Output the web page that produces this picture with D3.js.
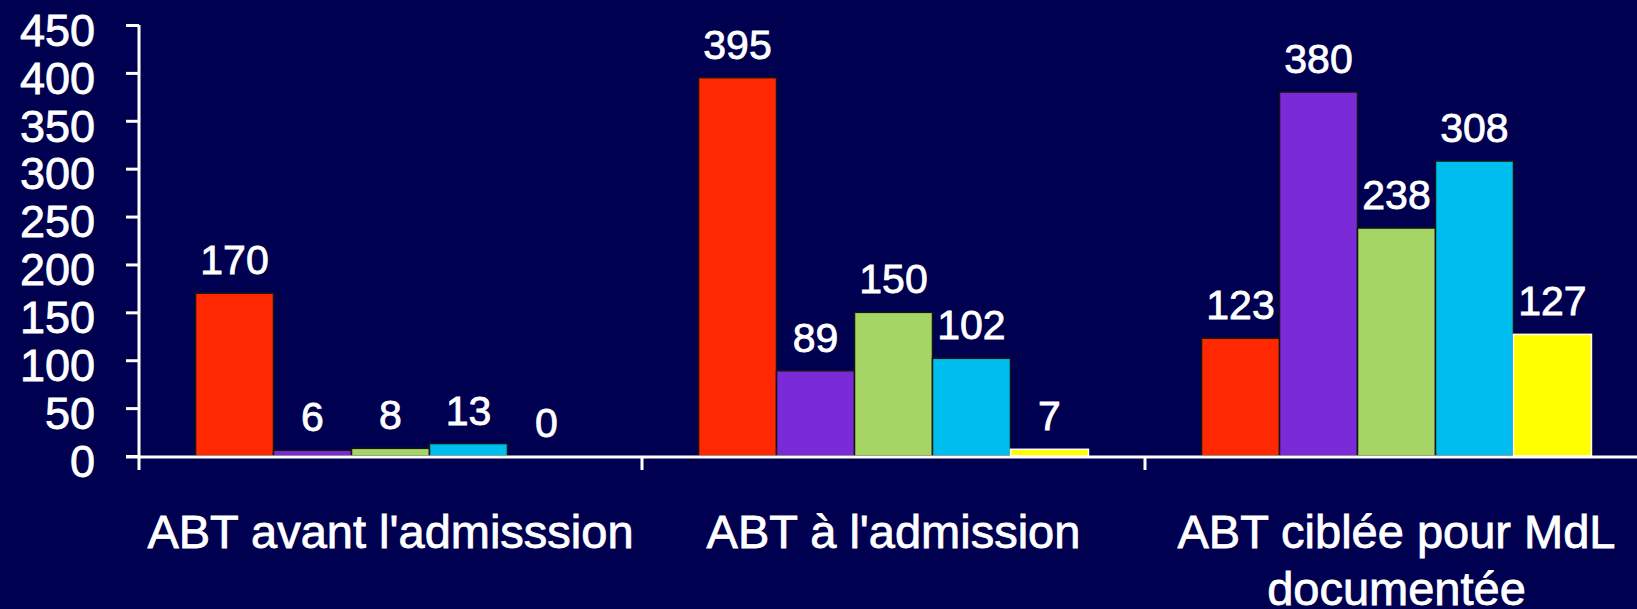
<!DOCTYPE html>
<html>
<head>
<meta charset="utf-8">
<script src="https://cdn.jsdelivr.net/npm/d3@7"></script>
<style>
  body { margin: 0; background: #000050; }
  svg { display: block; font-family: "Liberation Sans", Arial, sans-serif; }
  svg text { stroke: #ffffff; stroke-width: 0.8px; }
</style>
</head>
<body>
<div id="chart"></div>
<script>
// data
var categories = ["ABT avant l'admisssion", "ABT à l'admission", "ABT ciblée pour MdL|documentée"];
var seriesNames = ["s1", "s2", "s3", "s4", "s5"];
var seriesColors = ["#ff2800", "#7a2ad6", "#a5d565", "#00bdf0", "#ffff00"];
var s1Values = [170, 395, 123];
var s2Values = [6, 89, 380];
var s3Values = [8, 150, 238];
var s4Values = [13, 102, 308];
var s5Values = [0, 7, 127];
var yTicks = [0, 50, 100, 150, 200, 250, 300, 350, 400, 450];

var allValues = [s1Values, s2Values, s3Values, s4Values, s5Values];

var W = 1637, H = 609;
var plotLeft = 139, plotBase = 456, plotTop = 25;

var svg = d3.select('#chart').append('svg')
  .attr('width', W)
  .attr('height', H);

svg.append('rect').attr('width', W).attr('height', H).attr('fill', '#000050');

// scales
var x0 = d3.scaleBand().domain(categories).range([plotLeft, plotLeft + 3 * 503]).padding(0);
var x1 = d3.scaleBand().domain(seriesNames).range([0, x0.bandwidth()])
  .paddingInner(0).paddingOuter(0.725);
var y = d3.scaleLinear().domain([0, 450]).range([plotBase, plotTop]);

// rows for bars
var rows = [];
categories.forEach(function(c, i) {
  seriesNames.forEach(function(s, j) {
    rows.push({cat: c, ser: s, value: allValues[j][i], color: seriesColors[j]});
  });
});

// bars
svg.selectAll('rect.bar')
  .data(rows)
  .enter()
  .append('rect')
  .attr('class', 'bar')
  .attr('x', function(d) { return x0(d.cat) + x1(d.ser); })
  .attr('width', x1.bandwidth())
  .attr('y', function(d) { return y(d.value); })
  .attr('height', function(d) { return plotBase - y(d.value); })
  .attr('fill', function(d) { return d.color; })
  .attr('stroke', function(d) { return d.ser == 's5' ? '#ffffff' : '#151515'; })
  .attr('stroke-width', function(d) { return d.value > 0 ? 1.5 : 0; });

// value labels
svg.selectAll('text.val')
  .data(rows)
  .enter()
  .append('text')
  .attr('class', 'val')
  .attr('x', function(d) { return x0(d.cat) + x1(d.ser) + x1.bandwidth() / 2; })
  .attr('y', function(d) { return y(d.value) - 19; })
  .attr('text-anchor', 'middle')
  .attr('fill', '#ffffff')
  .attr('font-size', 41)
  .text(function(d) { return d.value; });

// y axis
var yAxis = d3.axisLeft(y).tickValues(yTicks).tickSize(13).tickPadding(31);
var gy = svg.append('g').attr('transform', 'translate(' + plotLeft + ',0)').call(yAxis);
gy.select('.domain').remove();
gy.selectAll('.tick line').attr('stroke', '#ffffff').attr('stroke-width', 3);
gy.selectAll('.tick text')
  .attr('fill', '#ffffff')
  .attr('font-size', 45)
  .attr('font-family', '"Liberation Sans", Arial, sans-serif')
  .attr('dy', '0.45em');
gy.append('line')
  .attr('x1', 0).attr('x2', 0)
  .attr('y1', y(450)).attr('y2', plotBase + 14)
  .attr('stroke', '#ffffff').attr('stroke-width', 3);

// x axis baseline and category ticks
svg.append('line')
  .attr('x1', plotLeft - 13).attr('x2', W)
  .attr('y1', plotBase + 1).attr('y2', plotBase + 1)
  .attr('stroke', '#ffffff').attr('stroke-width', 3);

var bounds = categories.map(function(c) { return x0(c); }).concat([x0.range()[1]]);
svg.selectAll('line.xtick')
  .data(bounds.slice(1))
  .enter()
  .append('line')
  .attr('class', 'xtick')
  .attr('x1', function(d) { return d; }).attr('x2', function(d) { return d; })
  .attr('y1', plotBase).attr('y2', plotBase + 14)
  .attr('stroke', '#ffffff').attr('stroke-width', 3);

// category labels (| splits lines)
var cl = svg.selectAll('text.cat')
  .data(categories)
  .enter()
  .append('text')
  .attr('class', 'cat')
  .attr('text-anchor', 'middle')
  .attr('fill', '#ffffff')
  .attr('font-size', 47);
cl.selectAll('tspan')
  .data(function(d) { return d.split('|').map(function(t) { return {t: t, c: d}; }); })
  .enter()
  .append('tspan')
  .attr('x', function(d) { return x0(d.c) + x0.bandwidth() / 2; })
  .attr('y', function(d, i) { return 548 + i * 57; })
  .text(function(d) { return d.t; });
</script>
</body>
</html>
